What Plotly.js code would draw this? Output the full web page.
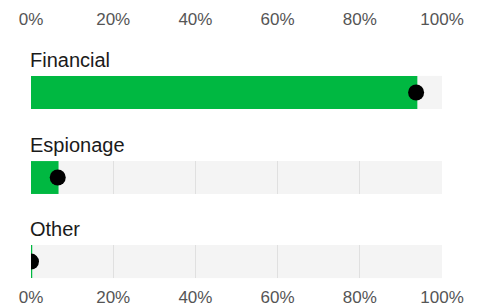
<!DOCTYPE html>
<html>
<head>
<meta charset="utf-8">
<script src="https://cdn.plot.ly/plotly-3.0.1.min.js"></script>
<style>html,body{margin:0;padding:0;background:#fff;}#chart{width:483px;height:308px;}</style>
</head>
<body>
<div id="chart"></div>
<script>
var categories = ['Financial', 'Espionage', 'Other'];
var barValues = [94, 6.7, 0.3];
var dotValues = [93.7, 6.5, 0];
var trackMax = [100, 100, 100];
var tickVals = [0, 20, 40, 60, 80, 100];
var tickText = ['0%', '20%', '40%', '60%', '80%', '100%'];

var domains = [[0.690, 0.820], [0.357, 0.486], [0.027, 0.157]];
var green = '#00b841';
var traces = [];
var layout = {
  width: 483, height: 308,
  margin: {l: 31, r: 41, t: 30, b: 23},
  paper_bgcolor: '#ffffff',
  plot_bgcolor: '#f4f4f4',
  showlegend: false,
  font: {family: 'Liberation Sans, Arial, sans-serif', color: '#555'},
  annotations: []
};

categories.forEach(function (cat, i) {
  var n = i === 0 ? '' : String(i + 1);
  traces.push({
    type: 'bar', orientation: 'h',
    x: [barValues[i]], y: [0],
    width: 1,
    marker: {color: green, line: {width: 0}},
    xaxis: 'x' + n, yaxis: 'y' + n,
    hoverinfo: 'skip'
  });
  traces.push({
    type: 'scatter', mode: 'markers',
    x: [dotValues[i]], y: [0],
    marker: {color: '#000', size: 16},
    xaxis: 'x' + n, yaxis: 'y' + n,
    cliponaxis: true,
    hoverinfo: 'skip'
  });
  var xa = {
    range: [0, trackMax[i]], fixedrange: true,
    tickvals: tickVals, ticktext: tickText,
    showgrid: true, gridcolor: '#e0e0e0', gridwidth: 1,
    zeroline: false, showline: false, ticks: '',
    tickfont: {size: 17, color: '#555'},
    showticklabels: false
  };
  if (i === 0) {
    xa.anchor = 'free'; xa.position = 1; xa.side = 'top'; xa.showticklabels = true;
    xa.ticklabelstandoff = 2;
  } else if (i === categories.length - 1) {
    xa.anchor = 'free'; xa.position = 0; xa.side = 'bottom'; xa.showticklabels = true;
    xa.matches = 'x';
  } else {
    xa.anchor = 'y' + n; xa.matches = 'x';
  }
  layout['xaxis' + n] = xa;
  layout['yaxis' + n] = {
    domain: domains[i], range: [-0.5, 0.5], fixedrange: true,
    showgrid: false, zeroline: false, showticklabels: false, showline: false,
    anchor: 'x' + n
  };
  layout.annotations.push({
    text: cat, xref: 'paper', yref: 'y' + n + ' domain',
    x: 0, y: 1, xanchor: 'left', yanchor: 'bottom',
    xshift: -3, yshift: 3, showarrow: false,
    font: {size: 20, color: '#1a1a1a'}
  });
});

Plotly.newPlot('chart', traces, layout, {displayModeBar: false, staticPlot: true});
</script>
</body>
</html>
